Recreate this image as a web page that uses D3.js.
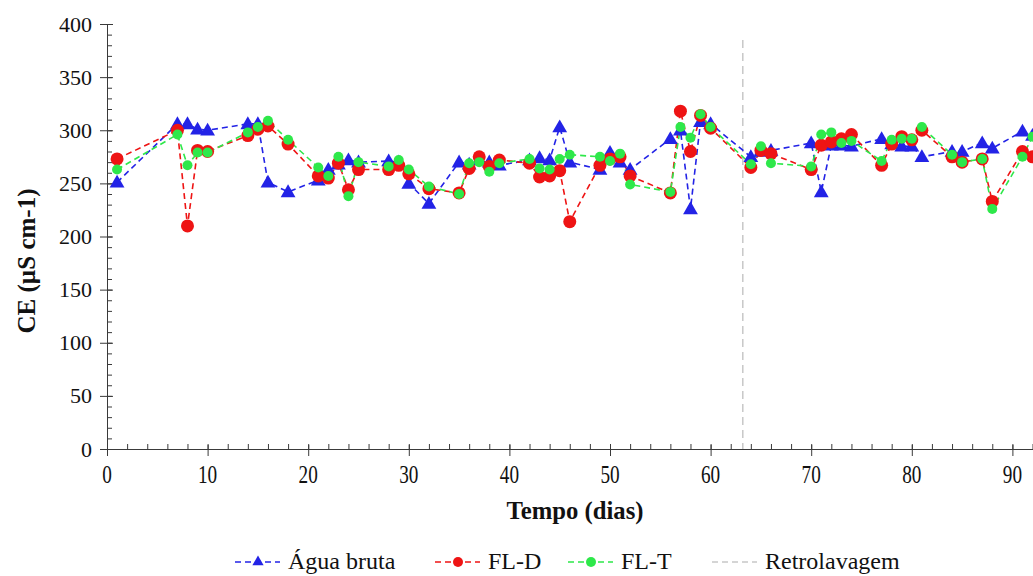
<!DOCTYPE html>
<html>
<head>
<meta charset="utf-8">
<script src="https://cdn.jsdelivr.net/npm/d3@7"></script>
<style>
  body { margin: 0; background: #fff; }
  svg { display: block; }
  svg text { font-family: "Liberation Serif", "Times New Roman", "DejaVu Serif", serif; }
</style>
</head>
<body>
<div id="container"></div>
<script>
/* DATA */
const days = [1, 7, 8, 9, 10, 14, 15, 16, 18, 21, 22, 23, 24, 25, 28, 29, 30, 32, 35, 36, 37, 38, 39,
  42, 43, 44, 45, 46, 49, 50, 51, 52, 56, 57, 58, 59, 60, 64, 65, 66, 70, 71, 72, 73, 74,
  77, 78, 79, 80, 81, 84, 85, 87, 88, 91, 92]

const aguaBruta = [251, 306, 306, 301, 300, 306, 306, 251, 242, 253, 263, 268, 272, 270, 271, 270, 250, 231, 270, 268, 272, 270, 267,
  272, 274, 272, 303, 270, 263, 279, 270, 263, 292, 300, 226, 308, 306, 275, 280, 281, 288, 242, 286, 286, 285,
  292, 287, 285, 285, 275, 280, 280, 288, 283, 299, 295]

const flD = [273, 300, 210, 281, 280, 295, 301, 304, 287, 257, 255, 269, 244, 263, 263, 267, 259, 245, 241, 264, 275, 266, 272,
  269, 256, 257, 262, 214, 267, 273, 275, 257, 241, 318, 280, 314, 302, 265, 281, 278, 263, 286, 289, 292, 296,
  267, 287, 294, 291, 300, 275, 270, 273, 233, 280, 275]

const flT = [263, 296, 267, 279, 279, 298, 303, 309, 291, 265, 257, 275, 238, 270, 266, 272, 263, 247, 240, 269, 270, 261, 269,
  273, 264, 263, 273, 277, 275, 271, 278, 249, 242, 303, 293, 315, 303, 268, 285, 269, 266, 296, 298, 288, 290,
  271, 291, 292, 292, 303, 277, 270, 273, 226, 275, 294]

const retrolavagem = 63.2

const seriesNames = ["Água bruta", "FL-D", "FL-T", "Retrolavagem"]

/* CONSTANTS */
const width = 1033,
  height = 576,
  margin = { top: 24, bottom: 127, left: 107 }
const serif = "'Liberation Serif', 'Times New Roman', 'DejaVu Serif', serif"

const svg = d3.select("#container")
  .append("svg")
  .attr("width", width)
  .attr("height", height)

const xScale = d3.scaleLinear()
  .domain([0, 100])
  .range([margin.left, margin.left + 1006])

const yScale = d3.scaleLinear()
  .domain([0, 400])
  .range([height - margin.bottom, margin.top])

const colors = { agua: "#2323e6", fld: "#ee1414", flt: "#2ee84a", retro: "#c8c8c8" }
const axisColor = "#3a3a3a"

/* AXES */
function styleAxis(g) {
  g.attr("font-family", serif)
  g.select(".domain").attr("stroke", axisColor)
  g.selectAll(".tick line").attr("stroke", axisColor)
  g.selectAll("text").attr("fill", "#111")
}

// y: major ticks crossing the axis, minor ticks inside
svg.append("g")
  .attr("transform", `translate(${margin.left},0)`)
  .call(d3.axisRight(yScale).tickValues(d3.range(0, 401, 10)).tickSize(5).tickFormat(""))
  .call(styleAxis)
svg.append("g")
  .attr("transform", `translate(${margin.left},0)`)
  .call(d3.axisRight(yScale).tickValues(d3.range(0, 401, 50)).tickSize(6).tickFormat(""))
  .call(styleAxis)
svg.append("g")
  .attr("transform", `translate(${margin.left},0)`)
  .call(d3.axisLeft(yScale).tickValues(d3.range(0, 401, 50)).tickSize(7).tickPadding(8))
  .call(styleAxis)
  .call(g => g.selectAll("text").attr("font-size", 22))

// x: major ticks crossing the axis, minor ticks inside
const x0 = yScale(0)
svg.append("g")
  .attr("transform", `translate(0,${x0})`)
  .call(d3.axisTop(xScale).tickValues(d3.range(0, 101, 2)).tickSize(5).tickFormat(""))
  .call(styleAxis)
svg.append("g")
  .attr("transform", `translate(0,${x0})`)
  .call(d3.axisTop(xScale).tickValues(d3.range(0, 101, 10)).tickSize(4).tickFormat(""))
  .call(styleAxis)
svg.append("g")
  .attr("transform", `translate(0,${x0})`)
  .call(d3.axisBottom(xScale).tickValues(d3.range(0, 101, 10)).tickSize(7).tickFormat(""))
  .call(styleAxis)

// x tick labels, drawn narrow and tall like the reference
svg.append("g")
  .selectAll("text")
  .data(d3.range(0, 91, 10))
  .join("text")
  .attr("transform", d => `translate(${xScale(d)},${x0 + 34}) scale(0.74,1)`)
  .attr("text-anchor", "middle")
  .attr("font-size", 26)
  .attr("fill", "#111")
  .text(d => d)

// axis titles
svg.append("text")
  .attr("transform", `translate(575,519) scale(0.95,1)`)
  .attr("text-anchor", "middle")
  .attr("font-size", 26)
  .attr("font-weight", "bold")
  .attr("fill", "#111")
  .text("Tempo (dias)")

svg.append("text")
  .attr("transform", `translate(35,261) rotate(-90)`)
  .attr("text-anchor", "middle")
  .attr("font-size", 25)
  .attr("font-weight", "bold")
  .attr("fill", "#111")
  .text("CE (µS cm-1)")

/* RETROLAVAGEM */
svg.append("line")
  .attr("x1", xScale(retrolavagem)).attr("x2", xScale(retrolavagem))
  .attr("y1", yScale(385)).attr("y2", yScale(0))
  .attr("stroke", colors.retro)
  .attr("stroke-width", 1.5)
  .attr("stroke-dasharray", "8,5")

/* SERIES */
const tri = d3.symbol().type(d3.symbolTriangle).size(95)
const line = d3.line().x(d => xScale(d[0])).y(d => yScale(d[1]))

const series = [
  { key: "agua", values: aguaBruta, color: colors.agua, shape: "tri" },
  { key: "fld", values: flD, color: colors.fld, shape: "circle", r: 6.5 },
  { key: "flt", values: flT, color: colors.flt, shape: "circle", r: 5 }
]

series.forEach(s => {
  const pts = days.map((d, i) => [d, s.values[i]])
  svg.append("path")
    .datum(pts)
    .attr("fill", "none")
    .attr("stroke", s.color)
    .attr("stroke-width", 1.6)
    .attr("stroke-dasharray", "6,4")
    .attr("d", line)
})

series.forEach(s => {
  const pts = days.map((d, i) => [d, s.values[i]])
  if (s.shape === "tri") {
    svg.selectAll("path.tri")
      .data(pts)
      .join("path")
      .attr("class", "tri")
      .attr("transform", d => `translate(${xScale(d[0])},${yScale(d[1]) + 1})`)
      .attr("d", tri)
      .attr("fill", s.color)
  } else {
    svg.selectAll(`circle.${s.key}`)
      .data(pts)
      .join("circle")
      .attr("class", s.key)
      .attr("cx", d => xScale(d[0]))
      .attr("cy", d => yScale(d[1]))
      .attr("r", s.r)
      .attr("fill", s.color)
  }
})

/* LEGEND */
const legendItems = [
  { name: seriesNames[0], color: colors.agua, shape: "tri", x: 235 },
  { name: seriesNames[1], color: colors.fld, shape: "circle", x: 435 },
  { name: seriesNames[2], color: colors.flt, shape: "circle", x: 568 },
  { name: seriesNames[3], color: colors.retro, shape: "none", x: 712 }
]
const ly = 562
const lg = svg.append("g")
legendItems.forEach(it => {
  lg.append("line")
    .attr("x1", it.x).attr("x2", it.x + 45)
    .attr("y1", ly).attr("y2", ly)
    .attr("stroke", it.color)
    .attr("stroke-width", 1.6)
    .attr("stroke-dasharray", "6,4")
  if (it.shape === "tri") {
    lg.append("path")
      .attr("transform", `translate(${it.x + 23},${ly})`)
      .attr("d", d3.symbol().type(d3.symbolTriangle).size(55))
      .attr("fill", it.color)
  } else if (it.shape === "circle") {
    lg.append("circle")
      .attr("cx", it.x + 23).attr("cy", ly).attr("r", 5)
      .attr("fill", it.color)
  }
  lg.append("text")
    .attr("x", it.x + 53)
    .attr("y", ly + 7)
    .attr("font-size", 24)
    .attr("fill", "#111")
    .text(it.name)
})
</script>
</body>
</html>
